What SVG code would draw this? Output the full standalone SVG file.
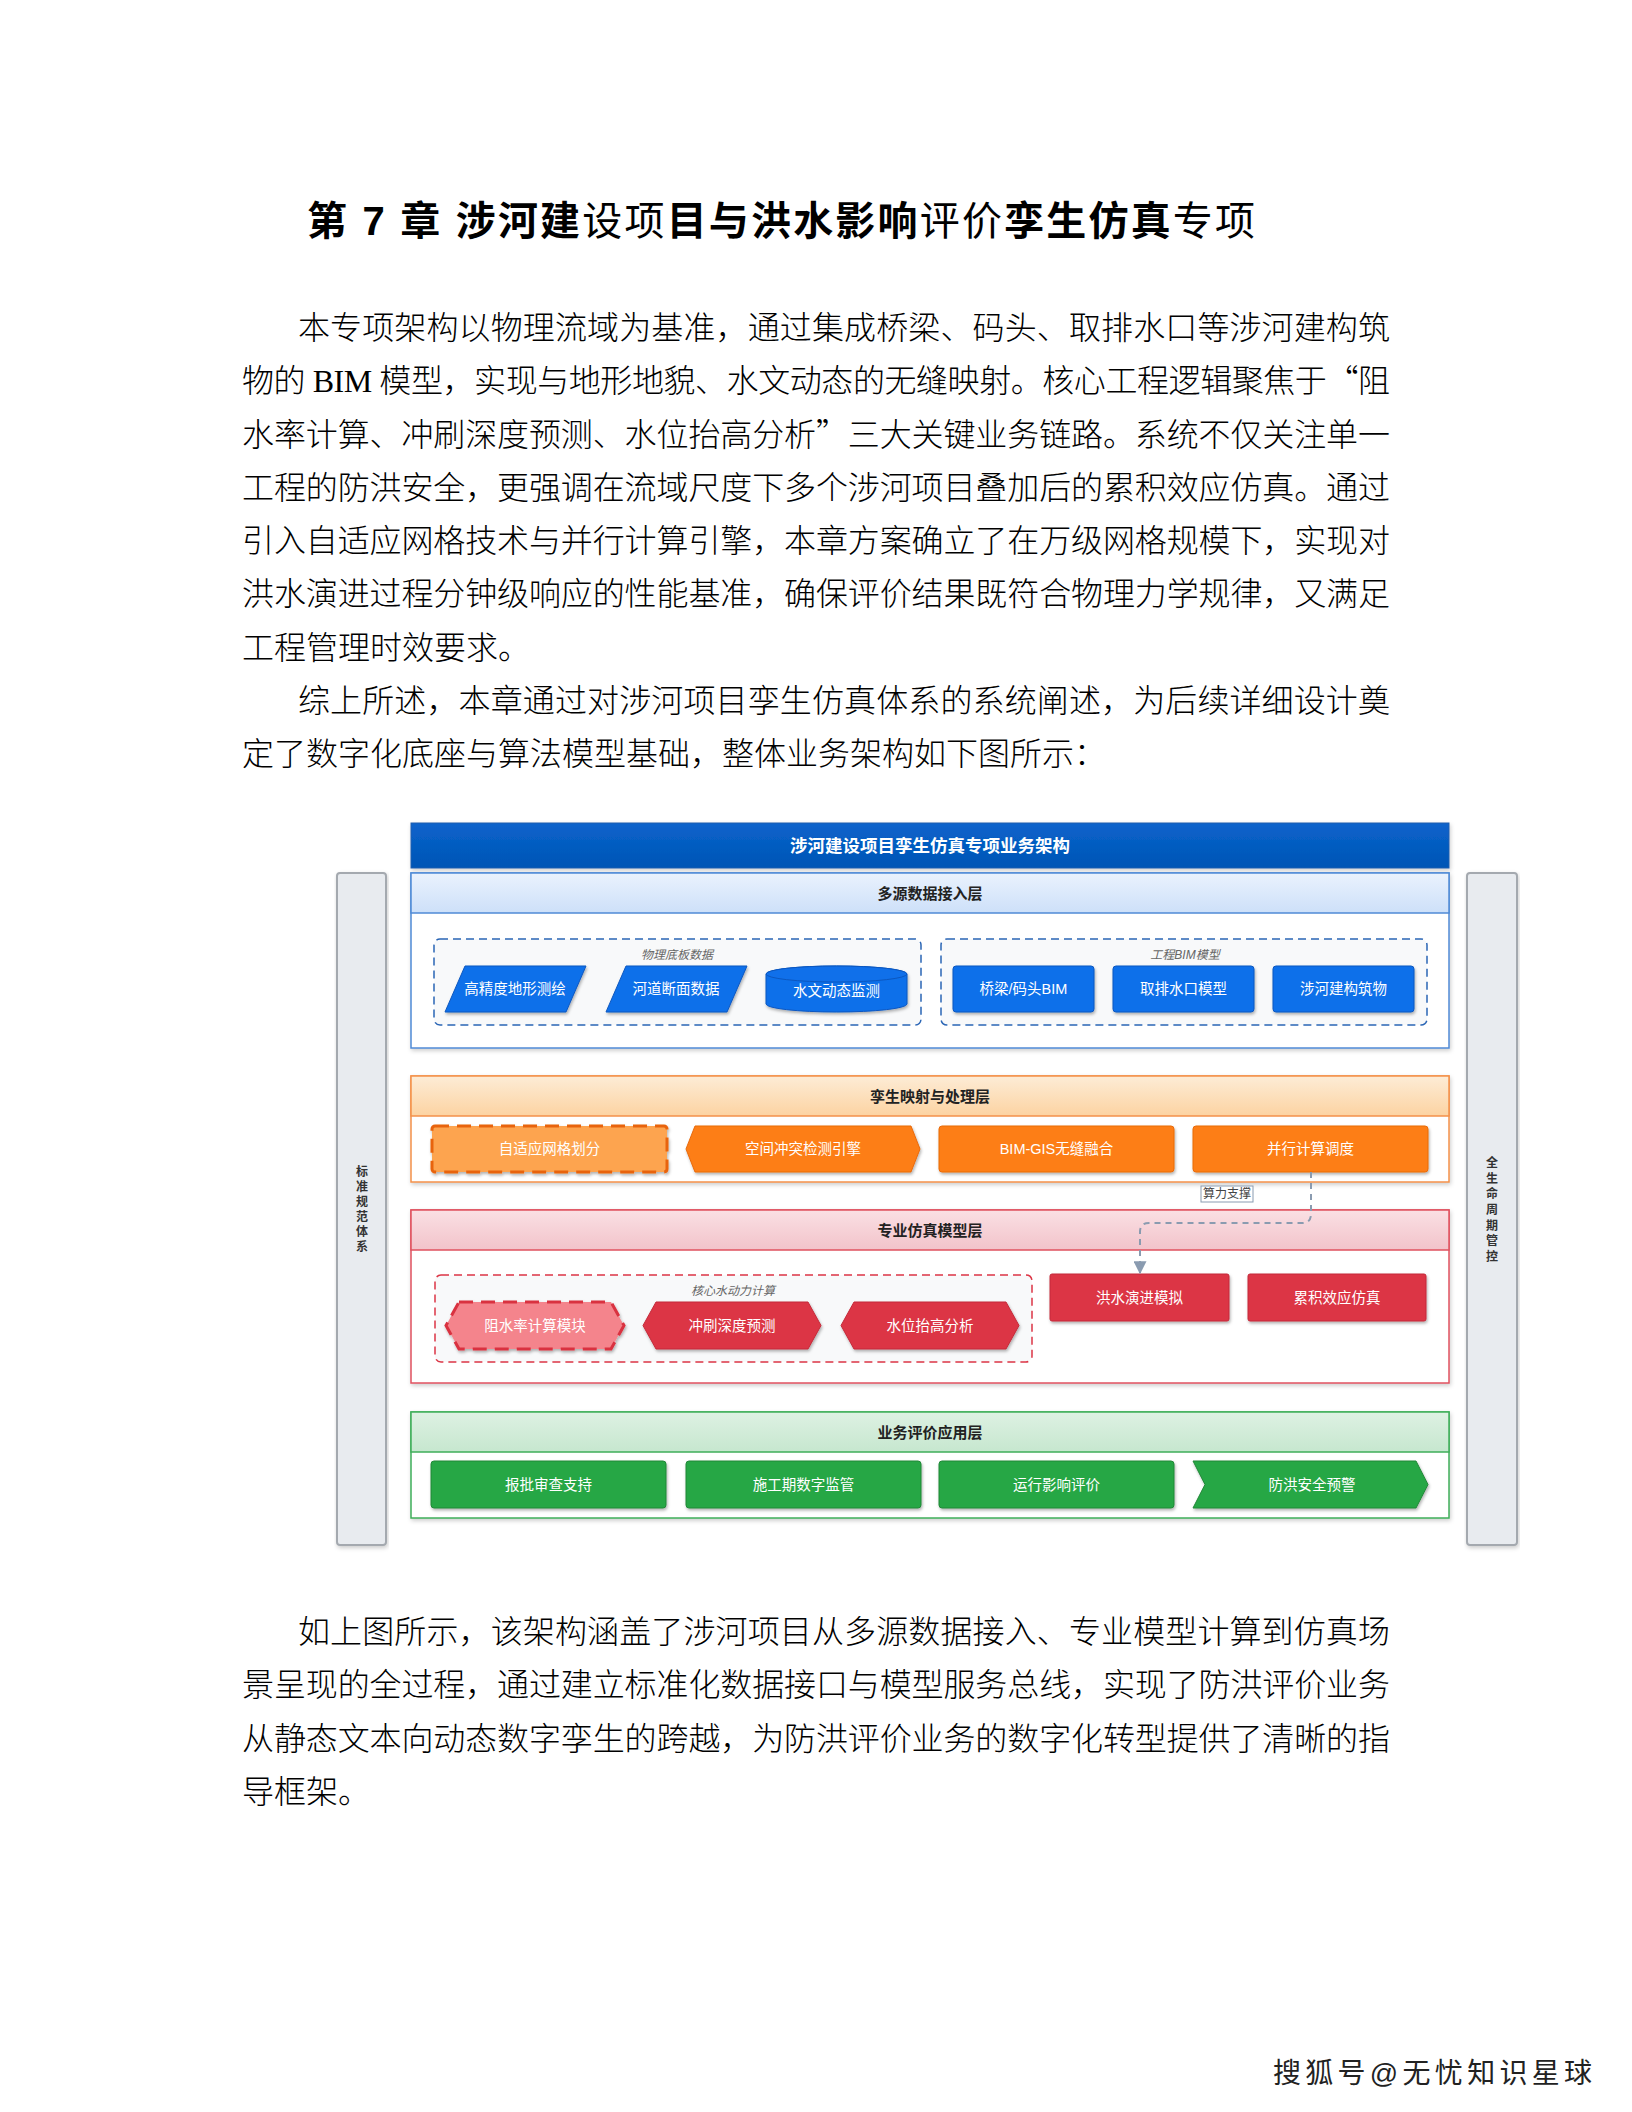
<svg xmlns="http://www.w3.org/2000/svg" width="1632" height="2112" viewBox="0 0 1632 2112">
<style>
.body{font-family:"Liberation Serif","Noto Sans CJK SC",serif;font-size:32px;font-weight:300;fill:#000}
.cq{font-family:"Noto Sans CJK SC",sans-serif}
.ttl{font-family:"Liberation Sans","Noto Sans CJK SC",sans-serif;font-size:40px;fill:#000}
.b{font-weight:700}
.n{font-weight:400}
.d{font-family:"Liberation Sans","Noto Sans CJK SC",sans-serif}
.nt{font-family:"Liberation Sans","Noto Sans CJK SC",sans-serif;font-size:14.5px;fill:#fff;text-anchor:middle;dominant-baseline:central}
.lh{font-family:"Liberation Sans","Noto Sans CJK SC",sans-serif;font-size:15px;font-weight:700;fill:#222;text-anchor:middle;dominant-baseline:central}
.gl{font-family:"Liberation Sans","Noto Sans CJK SC",sans-serif;font-size:12px;font-style:italic;fill:#666;text-anchor:middle;dominant-baseline:central}
.side{font-family:"Liberation Sans","Noto Sans CJK SC",sans-serif;font-size:12px;font-weight:700;fill:#333;text-anchor:middle;dominant-baseline:central}
.bar{fill:#e8ebef;stroke:#a4a9af;stroke-width:2}
.blue{fill:#1070ea;stroke:#0b57c0;stroke-width:1}
.orange{fill:#fd7e14;stroke:#e86a0c;stroke-width:1}
.red{fill:#dc3545;stroke:#c42b3a;stroke-width:1}
.green{fill:#28a745;stroke:#218838;stroke-width:1}
.grp{fill:#f8f9fa;stroke-width:1.5;stroke-dasharray:8 5}
.conn{fill:none;stroke:#8a9bb0;stroke-width:2;stroke-dasharray:6 5}
</style>
<defs>
<filter id="sh" x="-10%" y="-20%" width="120%" height="150%">
<feDropShadow dx="1" dy="2" stdDeviation="1.5" flood-color="#000" flood-opacity="0.3"/>
</filter>
<filter id="sh2" x="-5%" y="-10%" width="110%" height="125%">
<feDropShadow dx="1" dy="2" stdDeviation="2" flood-color="#000" flood-opacity="0.2"/>
</filter>
<linearGradient id="gBlueBar" x1="0" y1="0" x2="0" y2="1"><stop offset="0" stop-color="#0a63cc"/><stop offset="1" stop-color="#0055b5"/></linearGradient>
<linearGradient id="gBlue" x1="0" y1="0" x2="0" y2="1"><stop offset="0" stop-color="#eaf2fd"/><stop offset="1" stop-color="#cde0f9"/></linearGradient>
<linearGradient id="gOrange" x1="0" y1="0" x2="0" y2="1"><stop offset="0" stop-color="#fdecd6"/><stop offset="1" stop-color="#fcd3a2"/></linearGradient>
<linearGradient id="gRed" x1="0" y1="0" x2="0" y2="1"><stop offset="0" stop-color="#fae0e4"/><stop offset="1" stop-color="#f2c3ca"/></linearGradient>
<linearGradient id="gGreen" x1="0" y1="0" x2="0" y2="1"><stop offset="0" stop-color="#def1e3"/><stop offset="1" stop-color="#c6e7cf"/></linearGradient>
<marker id="arr" viewBox="0 0 10 10" refX="9" refY="5" markerWidth="13" markerHeight="13" orient="auto" markerUnits="userSpaceOnUse">
<path d="M0,0 L10,5 L0,10 z" fill="#8a9bb0"/>
</marker>
</defs>
<rect width="1632" height="2112" fill="#fff"/>

<text class="ttl" x="307" y="235" textLength="948" lengthAdjust="spacing"><tspan class="b">第 7 章 涉河建</tspan><tspan class="n">设项</tspan><tspan class="b">目与洪水影响</tspan><tspan class="n">评价</tspan><tspan class="b">孪生仿真</tspan><tspan class="n">专项</tspan></text>

<g id="para1">
<text class="body" x="298" y="339" textLength="1092" lengthAdjust="spacing">本专项架构以物理流域为基准，通过集成桥梁、码头、取排水口等涉河建构筑</text>
<text class="body" x="242" y="392" textLength="1148" lengthAdjust="spacing">物的 BIM 模型，实现与地形地貌、水文动态的无缝映射。核心工程逻辑聚焦于<tspan class="cq">“</tspan>阻</text>
<text class="body" x="242" y="446" textLength="1148" lengthAdjust="spacing">水率计算、冲刷深度预测、水位抬高分析<tspan class="cq">”</tspan>三大关键业务链路。系统不仅关注单一</text>
<text class="body" x="242" y="499" textLength="1148" lengthAdjust="spacing">工程的防洪安全，更强调在流域尺度下多个涉河项目叠加后的累积效应仿真。通过</text>
<text class="body" x="242" y="552" textLength="1148" lengthAdjust="spacing">引入自适应网格技术与并行计算引擎，本章方案确立了在万级网格规模下，实现对</text>
<text class="body" x="242" y="605" textLength="1148" lengthAdjust="spacing">洪水演进过程分钟级响应的性能基准，确保评价结果既符合物理力学规律，又满足</text>
<text class="body" x="242" y="659">工程管理时效要求。</text>
</g>
<g id="para2">
<text class="body" x="298" y="712" textLength="1092" lengthAdjust="spacing">综上所述，本章通过对涉河项目孪生仿真体系的系统阐述，为后续详细设计奠</text>
<text class="body" x="242" y="765">定了数字化底座与算法模型基础，整体业务架构如下图所示：</text>
</g>

<!-- Diagram -->
<g id="side-left">
<rect class="bar" x="337" y="873" width="49" height="672" rx="3" filter="url(#sh2)"/>
<text class="side"><tspan x="362" y="1172">标</tspan><tspan x="362" y="1187">准</tspan><tspan x="362" y="1202">规</tspan><tspan x="362" y="1217">范</tspan><tspan x="362" y="1232">体</tspan><tspan x="362" y="1247">系</tspan></text>
</g>
<g id="side-right">
<rect class="bar" x="1467" y="873" width="50" height="672" rx="3" filter="url(#sh2)"/>
<text class="side"><tspan x="1492" y="1163">全</tspan><tspan x="1492" y="1178.7">生</tspan><tspan x="1492" y="1194.3">命</tspan><tspan x="1492" y="1210">周</tspan><tspan x="1492" y="1225.7">期</tspan><tspan x="1492" y="1241.3">管</tspan><tspan x="1492" y="1257">控</tspan></text>
</g>

<g id="title-bar">
<rect x="411" y="823" width="1038" height="45" fill="url(#gBlueBar)" stroke="#1f5fae" stroke-width="1" filter="url(#sh2)"/>
<text class="d" x="930" y="846" font-size="17.5" font-weight="700" fill="#fff" text-anchor="middle" dominant-baseline="central">涉河建设项目孪生仿真专项业务架构</text>
</g>

<g id="layer-data">
<rect x="411" y="873" width="1038" height="175" fill="#fff" stroke="#4f8ad6" stroke-width="1.5" filter="url(#sh2)"/>
<rect x="411" y="873" width="1038" height="40" fill="url(#gBlue)" stroke="#4f8ad6" stroke-width="1.5"/>
<text class="lh" x="930" y="893">多源数据接入层</text>
</g>
<g id="group-physical">
<rect class="grp" x="434" y="939" width="487" height="86" rx="6" stroke="#2a65b5"/>
<text class="gl" x="677" y="955">物理底板数据</text>
</g>
<g id="group-bim">
<rect class="grp" x="941" y="939" width="486" height="86" rx="6" stroke="#2a65b5"/>
<text class="gl" x="1185" y="955">工程BIM模型</text>
</g>
<g id="n-terrain">
<path class="blue" d="M465,966 H586 L566,1012 H445 Z" filter="url(#sh)"/>
<text class="nt" x="515" y="989">高精度地形测绘</text>
</g>
<g id="n-section">
<path class="blue" d="M626,966 H747 L727,1012 H606 Z" filter="url(#sh)"/>
<text class="nt" x="676" y="989">河道断面数据</text>
</g>
<g id="n-hydro">
<path class="blue" d="M766,974 A70.5,8 0 0 1 907,974 V1004 A70.5,8 0 0 1 766,1004 Z" filter="url(#sh)"/>
<ellipse cx="836.5" cy="974" rx="70.5" ry="8" fill="#1070ea" stroke="#0b57c0" stroke-width="1"/>
<text class="nt" x="836.5" y="991">水文动态监测</text>
</g>
<g id="n-bridge">
<rect class="blue" x="953" y="966" width="141" height="46" rx="3" filter="url(#sh)"/>
<text class="nt" x="1023.5" y="989">桥梁/码头BIM</text>
</g>
<g id="n-intake">
<rect class="blue" x="1113" y="966" width="141" height="46" rx="3" filter="url(#sh)"/>
<text class="nt" x="1183.5" y="989">取排水口模型</text>
</g>
<g id="n-structure">
<rect class="blue" x="1273" y="966" width="141" height="46" rx="3" filter="url(#sh)"/>
<text class="nt" x="1343.5" y="989">涉河建构筑物</text>
</g>

<g id="layer-twin">
<rect x="411" y="1076" width="1038" height="106" fill="#fff" stroke="#f4914a" stroke-width="1.5" filter="url(#sh2)"/>
<rect x="411" y="1076" width="1038" height="40" fill="url(#gOrange)" stroke="#f4914a" stroke-width="1.5"/>
<text class="lh" x="930" y="1096">孪生映射与处理层</text>
</g>
<g id="n-mesh">
<rect x="432" y="1126" width="235" height="46" rx="3" fill="#fda450" stroke="#e8640c" stroke-width="3" stroke-dasharray="14 8" filter="url(#sh)"/>
<text class="nt" x="549.5" y="1149">自适应网格划分</text>
</g>
<g id="n-collision">
<path class="orange" d="M695,1126 H911 L920,1149 L911,1172 H695 L686,1149 Z" filter="url(#sh)"/>
<text class="nt" x="803" y="1149">空间冲突检测引擎</text>
</g>
<g id="n-bimgis">
<rect class="orange" x="939" y="1126" width="235" height="46" rx="3" filter="url(#sh)"/>
<text class="nt" x="1056.5" y="1149">BIM-GIS无缝融合</text>
</g>
<g id="n-parallel">
<rect class="orange" x="1193" y="1126" width="235" height="46" rx="3" filter="url(#sh)"/>
<text class="nt" x="1310.5" y="1149">并行计算调度</text>
</g>

<g id="layer-model">
<rect x="411" y="1210" width="1038" height="173" fill="#fff" stroke="#e0525f" stroke-width="1.5" filter="url(#sh2)"/>
<rect x="411" y="1210" width="1038" height="40" fill="url(#gRed)" stroke="#e0525f" stroke-width="1.5"/>
<text class="lh" x="930" y="1230">专业仿真模型层</text>
</g>
<g id="group-core">
<rect class="grp" x="435" y="1275" width="597" height="87" rx="6" stroke="#dc3545"/>
<text class="gl" x="733" y="1291">核心水动力计算</text>
</g>
<g id="n-block">
<path d="M459,1302 H611 L624,1325.5 L611,1349 H459 L446,1325.5 Z" fill="#f4848c" stroke="#d9303f" stroke-width="3" stroke-dasharray="14 8" filter="url(#sh)"/>
<text class="nt" x="535" y="1325.5">阻水率计算模块</text>
</g>
<g id="n-scour">
<path class="red" d="M656,1302 H808 L821,1325.5 L808,1349 H656 L643,1325.5 Z" filter="url(#sh)"/>
<text class="nt" x="732" y="1325.5">冲刷深度预测</text>
</g>
<g id="n-backwater">
<path class="red" d="M854,1302 H1006 L1019,1325.5 L1006,1349 H854 L841,1325.5 Z" filter="url(#sh)"/>
<text class="nt" x="930" y="1325.5">水位抬高分析</text>
</g>
<g id="n-flood">
<rect class="red" x="1050" y="1274" width="179" height="47" rx="2" filter="url(#sh)"/>
<text class="nt" x="1139.5" y="1297.5">洪水演进模拟</text>
</g>
<g id="n-cumulative">
<rect class="red" x="1248" y="1274" width="178" height="47" rx="2" filter="url(#sh)"/>
<text class="nt" x="1337" y="1297.5">累积效应仿真</text>
</g>

<g id="layer-app">
<rect x="411" y="1412" width="1038" height="106" fill="#fff" stroke="#3fae5a" stroke-width="1.5" filter="url(#sh2)"/>
<rect x="411" y="1412" width="1038" height="40" fill="url(#gGreen)" stroke="#3fae5a" stroke-width="1.5"/>
<text class="lh" x="930" y="1432">业务评价应用层</text>
</g>
<g id="n-approval">
<rect class="green" x="431" y="1461" width="235" height="47" rx="3" filter="url(#sh)"/>
<text class="nt" x="548.5" y="1484.5">报批审查支持</text>
</g>
<g id="n-construction">
<rect class="green" x="686" y="1461" width="235" height="47" rx="3" filter="url(#sh)"/>
<text class="nt" x="803.5" y="1484.5">施工期数字监管</text>
</g>
<g id="n-operation">
<rect class="green" x="939" y="1461" width="235" height="47" rx="3" filter="url(#sh)"/>
<text class="nt" x="1056.5" y="1484.5">运行影响评价</text>
</g>
<g id="n-warning">
<path class="green" d="M1193,1461 H1416 L1428,1484.5 L1416,1508 H1193 L1205,1484.5 Z" filter="url(#sh)"/>
<text class="nt" x="1312" y="1484.5">防洪安全预警</text>
</g>

<g id="connectors">
<path class="conn" d="M1311,1172 V1214 Q1311,1223 1302,1223 H1149 Q1140,1223 1140,1232 V1273" marker-end="url(#arr)"/>
<rect x="1201" y="1186" width="52" height="16" fill="#fff" stroke="#8a9bb0" stroke-width="1"/>
<text class="d" x="1227" y="1194" font-size="12" fill="#444" text-anchor="middle" dominant-baseline="central">算力支撑</text>
</g>

<g id="para3">
<text class="body" x="298" y="1643" textLength="1092" lengthAdjust="spacing">如上图所示，该架构涵盖了涉河项目从多源数据接入、专业模型计算到仿真场</text>
<text class="body" x="242" y="1696" textLength="1148" lengthAdjust="spacing">景呈现的全过程，通过建立标准化数据接口与模型服务总线，实现了防洪评价业务</text>
<text class="body" x="242" y="1750" textLength="1148" lengthAdjust="spacing">从静态文本向动态数字孪生的跨越，为防洪评价业务的数字化转型提供了清晰的指</text>
<text class="body" x="242" y="1803">导框架。</text>
</g>

<text class="d" x="1273" y="2083" font-size="28" fill="#222" textLength="319" lengthAdjust="spacing">搜狐号@无忧知识星球</text>
</svg>
